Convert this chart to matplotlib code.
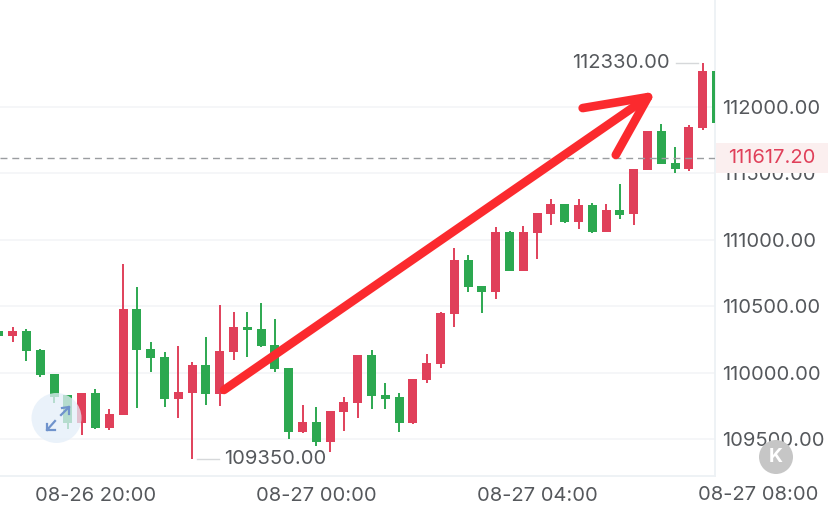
import matplotlib
matplotlib.use("Agg")
import matplotlib.pyplot as plt
from matplotlib.patches import Circle, Rectangle

# === 15 minute candles ===
colors_up = [0,1,0,0,0,0,1,0,1,1,0,0,0,1,1,0,1,1,0,0,0,0,1,0,1,1,1,0,0,0,1,1,1,1,0,0,1,0,1,1,1,0,1,0,1,0,1,1,0,0,1,1,0]
highs = [110313,110341,110331,110180,109992,109829,109846,109874,109728,110818,110645,110233,110157,110198,110078,110270,110511,
         110454,110459,110522,110404,110032,109756,109743,109713,109814,110133,110172,109922,109844,109954,110140,110454,110936,
         110888,110652,111094,111064,111102,111202,111307,111270,111307,111279,111267,111418,111533,111822,111872,111701,111864,112330,112269]
tops = [110313,110313,110313,110172,109992,109829,109846,109846,109688,110481,110481,110178,110117,109854,110055,110055,110165,
        110341,110343,110328,110208,110032,109630,109630,109713,109779,110133,110133,109831,109814,109954,110072,110449,110846,
        110846,110652,111061,111061,111056,111202,111270,111270,111260,111260,111222,111222,111533,111822,111822,111581,111849,112269,112269]
bottoms = [110276,110276,110165,109982,109819,109623,109623,109585,109585,109679,110168,110110,109803,109803,109846,109839,109839,
           110155,110319,110200,110025,109553,109553,109477,109477,109703,109771,109824,109803,109621,109621,109944,110065,110439,
           110642,110607,110607,110767,110767,111049,111194,111134,111134,111056,111056,111189,111192,111523,111573,111535,111531,111840,111880]
lows = [110276,110228,110090,109967,109773,109575,109530,109578,109568,109679,109731,110007,109741,109660,109350,109756,109751,
        110097,110115,110191,110005,109502,109543,109450,109400,109558,109660,109728,109724,109550,109611,109924,110037,110341,
        110609,110447,110554,110767,110767,110853,111109,111129,111079,111053,111056,111157,111111,111523,111573,111501,111520,111829,111880]

y_ticks = [112000, 111500, 111000, 110500, 110000, 109500]
x_ticks = [7, 23, 39, 55]
x_labels = ["08-26 20:00", "08-27 00:00", "08-27 04:00", "08-27 08:00"]
last_price = 111617.20
high_price = 112330
low_price = 109350

# hand drawn arrow, in candle index / price
arrow_x = [16.31, 47.04]
arrow_y = [109869, 112075]
head_x = [42.3, 47.04, 44.7]
head_y = [111992, 112075, 111639]

RED = "#E0405A"
GREEN = "#2CA850"
TEXT = "#55585C"
GRID = "#F3F5F7"
FONT = "Inter"
FS = 14.5

plt.rcParams["font.family"] = FONT

fig = plt.figure(figsize=(8.29, 5.12), dpi=100)
ax = fig.add_axes([0, (512 - 476) / 512, 715 / 829, 476 / 512])

# === Candles ===
for i in range(len(highs)):
    c = RED if colors_up[i] else GREEN
    ax.vlines(i, lows[i], highs[i], color=c, lw=1.4, zorder=3)
    ax.bar(i, tops[i] - bottoms[i], bottom=bottoms[i], width=0.65, color=c, zorder=3)

ax.set_ylim(109221, 112806)
ax.set_yticks(y_ticks)
ax.set_yticklabels([f"{v:.2f}" for v in y_ticks], fontsize=FS, color=TEXT)
ax.yaxis.tick_right()
ax.set_xticks(x_ticks[:3], x_labels[:3], fontsize=FS, color=TEXT)
ax.set_xlim(0.08, 51.89)
ax.tick_params(length=0)
ax.tick_params(axis="y", pad=5)
ax.tick_params(axis="x", pad=8)
ax.grid(True, axis="y", color=GRID, lw=1.2, zorder=0)
for s in ["top", "left"]:
    ax.spines[s].set_visible(False)
ax.spines["right"].set_color("#EDF1F4")
ax.spines["right"].set_linewidth(1.3)
ax.spines["bottom"].set_color("#EDF1F4")
ax.spines["bottom"].set_linewidth(1.3)

# last price line
ax.axhline(last_price, color="#9A9DA0", lw=1, ls=(0, (5, 3.5)), zorder=4)

# high / low markers
ax.plot([49.06, 50.65], [high_price, high_price], color="#D6D8DA", lw=1, zorder=2)
ax.text(48.6, high_price, f"{high_price:.2f}", ha="right", va="center", fontsize=FS, color=TEXT)
ax.plot([14.35, 15.95], [low_price, low_price], color="#D6D8DA", lw=1, zorder=2)
ax.text(16.3, low_price, f"{low_price:.2f}", ha="left", va="center", fontsize=FS, color=TEXT)

# 08-27 08:00 sits past the plot edge, so it can't be a normal tick
ax.text(x_ticks[3], -0.04, x_labels[3], transform=ax.get_xaxis_transform(), ha="center", va="center", fontsize=FS, color=TEXT)

# === Overlay in pixels: price tag, buttons ===
over = fig.add_axes([0, 0, 1, 1])
over.set_xlim(0, 829)
over.set_ylim(512, 0)
over.axis("off")
over.patch.set_alpha(0)

over.add_patch(Rectangle((716, 143), 113, 30, color="#FBEFEF", lw=0))
over.text(772, 158, f"{last_price:.2f}", ha="center", va="center", fontsize=FS, color=RED)

over.add_patch(Circle((56.5, 418), 25, color="#E4EEF9", alpha=0.75, lw=0))
over.plot([47, 55], [430, 421], color="#6F93CC", lw=1.6)
over.plot([47, 47, 55], [424, 430, 430], color="#6F93CC", lw=1.6)
over.plot([61, 69], [415, 407], color="#6F93CC", lw=1.6)
over.plot([62, 69, 69], [408, 407, 414], color="#6F93CC", lw=1.6)

over.add_patch(Circle((776, 457), 17, color="#C6C6C6", lw=0))
over.text(776, 457, "K", ha="center", va="center", fontsize=14, color="white", fontweight="bold")

# === Red arrow on top of everything ===
arrow = fig.add_axes(ax.get_position(), sharex=ax, sharey=ax)
arrow.axis("off")
arrow.patch.set_alpha(0)
arrow.plot(arrow_x, arrow_y, color="#FB2A2E", lw=6.2, solid_capstyle="round")
arrow.plot(head_x, head_y, color="#FB2A2E", lw=6.2, solid_capstyle="round", solid_joinstyle="round")

fig.savefig("out.png", dpi=100)
